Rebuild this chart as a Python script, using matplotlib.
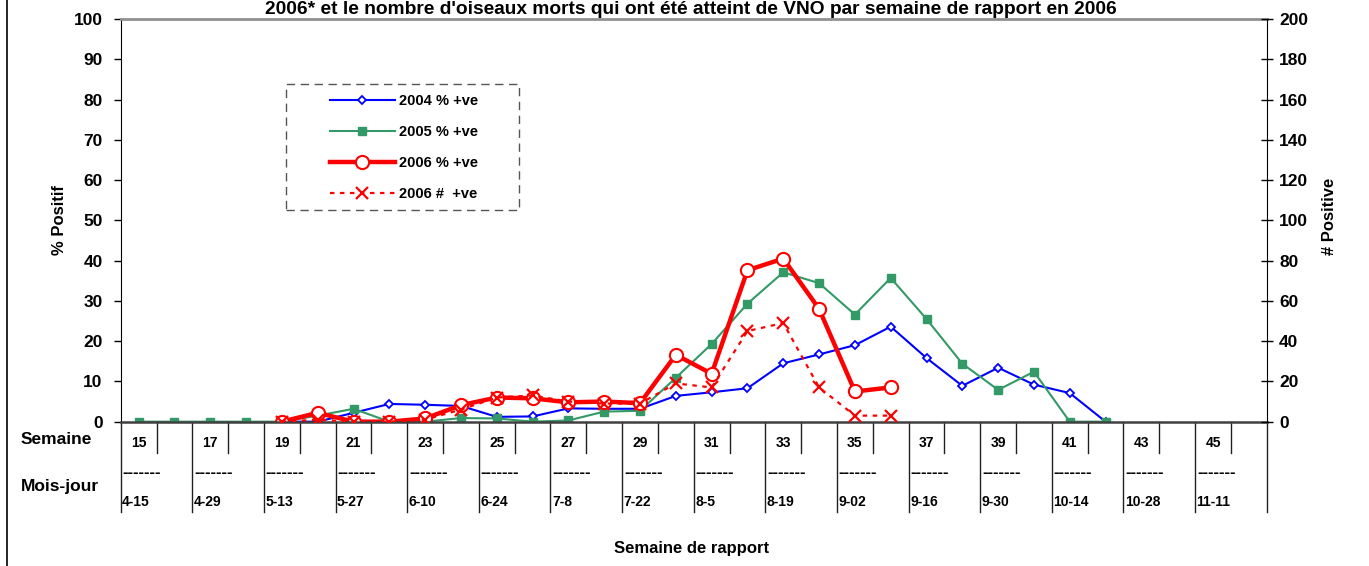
import numpy as np
import matplotlib
matplotlib.use("Agg")
from matplotlib import pyplot as plt
from matplotlib.patches import Rectangle
from matplotlib.lines import Line2D

plt.rcParams["font.family"] = ["Liberation Sans", "DejaVu Sans"]
plt.rcParams["font.weight"] = "bold"

nan = np.nan

# semaines 15 a 46
weeks = list(range(15, 47))
dates = ["4-15", "4-29", "5-13", "5-27", "6-10", "6-24", "7-8", "7-22",
         "8-5", "8-19", "9-02", "9-16", "9-30", "10-14", "10-28", "11-11"]

pct_2004 = [nan, nan, nan, nan, 0, 0, 2.2, 4.4, 4.2, 3.9, 1.2, 1.3, 3.3, 3.2, 3.2, 6.4,
            7.3, 8.3, 14.5, 16.7, 19.0, 23.6, 15.8, 8.9, 13.4, 9.2, 7.1, 0, nan, nan, nan, nan]
pct_2005 = [0, 0, 0, 0, 0, 1.5, 3.2, 0, 0, 0.9, 0.8, 0, 0.3, 2.5, 2.7, 10.9,
            19.3, 29.3, 37.1, 34.4, 26.6, 35.7, 25.5, 14.4, 7.9, 12.4, 0, 0, nan, nan, nan, nan]
pct_2006 = [nan, nan, nan, nan, 0, 2.2, 0, 0, 0.8, 4.1, 6.0, 5.8, 4.8, 5.0, 4.6, 16.6,
            11.9, 37.6, 40.5, 28.0, 7.5, 8.5, nan, nan, nan, nan, nan, nan, nan, nan, nan, nan]
count_2006 = [nan, nan, nan, nan, 0, 1, 0, 0, 1, 6, 12, 13, 10, 9, 9, 19,
              17, 45, 49, 17, 3, 3, nan, nan, nan, nan, nan, nan, nan, nan, nan, nan]

title = "2006* et le nombre d'oiseaux morts qui ont été atteint de VNO par semaine de rapport en 2006"

x = np.arange(len(weeks))

fig = plt.figure(figsize=(13.69, 5.66), dpi=100)
ax = fig.add_axes([0.0882, 0.2550, 0.8371, 0.7114])
ax2 = ax.twinx()

l1, = ax.plot(x, pct_2004, color="#0000ff", lw=1.5, marker="D", ms=4.5,
              mfc="white", mec="#0000ff", mew=1.3, label="2004 % +ve")
l2, = ax.plot(x, pct_2005, color="#339966", lw=1.5, marker="s", ms=6,
              mfc="#339966", mec="#339966", label="2005 % +ve")
l3, = ax.plot(x, pct_2006, color="#ff0000", lw=3.2, marker="o", ms=9.5,
              mfc="white", mec="#ff0000", mew=1.5, label="2006 % +ve")
l4, = ax2.plot(x, count_2006, color="#ff0000", lw=1.6, ls=(0, (2, 2.5)), marker="x",
               ms=9, mew=1.6, label="2006 #  +ve")

ax.set_xlim(-0.5, len(weeks) - 0.5)
ax.set_ylim(0, 100)
ax2.set_ylim(0, 200)
ax.set_yticks(np.arange(0, 101, 10))
ax2.set_yticks(np.arange(0, 201, 20))
ax.set_xticks([])
ax2.set_xticks([])

ax.tick_params(axis="y", direction="out", length=5, width=1, labelsize=12.5, pad=8)
ax2.tick_params(axis="y", direction="inout", length=8, width=1, labelsize=12.5, pad=5)

for a in (ax, ax2):
    for s in a.spines.values():
        s.set_visible(False)
ax.spines["left"].set_visible(True)
ax.spines["left"].set_color("black")
ax.spines["top"].set_visible(True)
ax.spines["top"].set_color("#909090")
ax.spines["top"].set_linewidth(2)
ax.spines["bottom"].set_visible(True)
ax.spines["bottom"].set_color("#404040")
ax.spines["bottom"].set_linewidth(1.8)
ax2.spines["right"].set_visible(True)
ax2.spines["right"].set_color("black")

ax.set_ylabel("% Positif", fontsize=12, fontweight="bold")
ax.yaxis.set_label_coords(-0.047, 0.5)
ax2.set_ylabel("# Positive", fontsize=12, fontweight="bold")
ax2.yaxis.set_label_coords(1.0486, 0.51)

# tableau des semaines / dates sous l'axe
tr = ax.get_xaxis_transform()
for k in range(len(weeks) + 1):
    bottom = -0.2235 if k % 2 == 0 else -0.077
    ax.plot([k - 0.5, k - 0.5], [0, bottom], transform=tr, color="#202020",
            lw=1, clip_on=False)
for i, w in enumerate(weeks):
    if i % 2 == 0:
        ax.text(i, -0.053, str(w), transform=tr, ha="center", va="center",
                fontsize=10, fontweight="bold")
        ax.text(i - 0.45, -0.127, "-------", transform=tr, ha="left", va="center",
                fontsize=12, fontweight="bold")
        ax.text(i - 0.46, -0.2, dates[i // 2], transform=tr, ha="left", va="center",
                fontsize=10, fontweight="bold")

fig.text(21 / 1369, 1 - 440 / 566, "Semaine", ha="left", va="center",
         fontsize=12.5, fontweight="bold")
fig.text(21 / 1369, 1 - 487 / 566, "Mois-jour", ha="left", va="center",
         fontsize=12.5, fontweight="bold")
fig.text(0.5055, 1 - 548 / 566, "Semaine de rapport", ha="center", va="center",
         fontsize=12, fontweight="bold")
fig.text(0.505, 1 - 14 / 566, title, ha="center", va="baseline",
         fontsize=13.8, fontweight="bold")

fig.add_artist(Line2D([7 / 1369, 7 / 1369], [0, 1], color="black", lw=1.2))

# legende
ax2.add_patch(Rectangle((0.1442, 0.5257), 0.2034, 0.3129, transform=ax2.transAxes,
                        fill=False, ec="#555555", lw=1, ls=(0, (6, 4)), zorder=5))
ax2.legend(handles=[l1, l2, l3, l4], loc="upper left",
           bbox_to_anchor=(0.1826, 0.8137), frameon=False, borderpad=0,
           borderaxespad=0, handlelength=4.45, handletextpad=0.25,
           labelspacing=1.17, prop={"size": 10.5, "weight": "bold"})

fig.savefig("out.png", dpi=100)
